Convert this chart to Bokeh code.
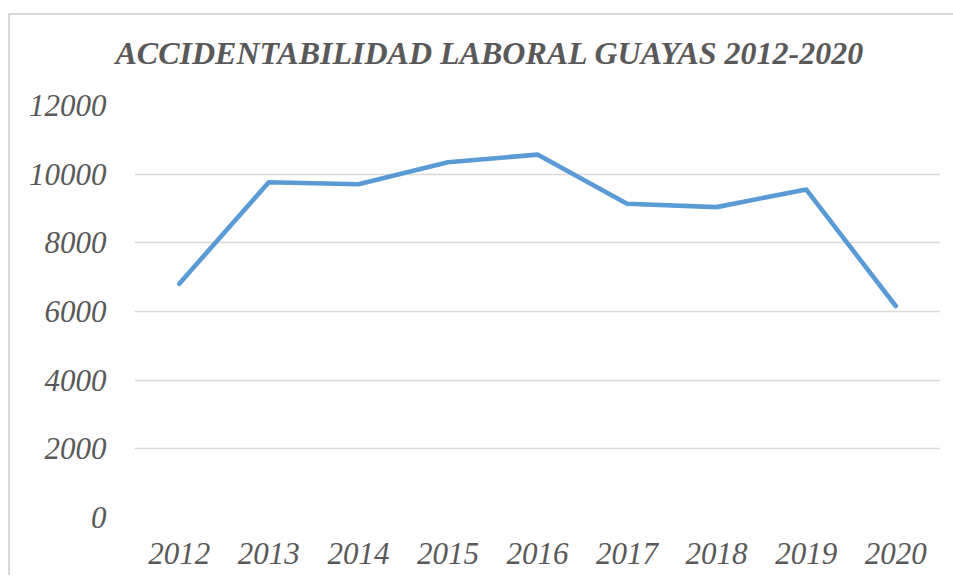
from bokeh.plotting import figure
from bokeh.models import FixedTicker, Range1d, BasicTickFormatter
from bokeh.embed import file_html
from bokeh.resources import INLINE

years = ["2012", "2013", "2014", "2015", "2016", "2017", "2018", "2019", "2020"]
accidents = [6810, 9765, 9705, 10345, 10570, 9140, 9040, 9555, 6160]
y_ticks = [0, 2000, 4000, 6000, 8000, 10000, 12000]
title_text = "ACCIDENTABILIDAD LABORAL GUAYAS 2012-2020"

SERIF = "Times New Roman"

p = figure(
    x_range=years,
    y_range=Range1d(0, 12000),
    width=945,
    height=575,
    output_backend="svg",
    toolbar_location=None,
    title=title_text,
    min_border_left=126,
    min_border_right=13,
    min_border_top=105,
    min_border_bottom=58,
)
p.styles = {
    "margin-left": "8px",
    "background-image": "linear-gradient(#d9d9d9, #d9d9d9), linear-gradient(#d9d9d9, #d9d9d9)",
    "background-size": "100% 2px, 2px 100%",
    "background-position": "0 13px, 0 13px",
    "background-repeat": "no-repeat",
}

p.line(years, accidents, line_color="#5B9BD5", line_width=4.6,
       line_cap="round", line_join="round")

p.title.text_font = SERIF
p.title.text_font_style = "bold italic"
p.title.text_font_size = "32px"
p.title.text_color = "#595959"
p.title.align = "left"
p.title.vertical_align = "top"
p.title.offset = -19
p.title.standoff = 65

p.outline_line_color = None
p.background_fill_color = "white"
p.border_fill_color = None

p.xgrid.grid_line_color = None
p.ygrid.grid_line_color = "#d9d9d9"
p.ygrid.grid_line_width = 1.5

p.yaxis.ticker = FixedTicker(ticks=y_ticks)
p.yaxis.formatter = BasicTickFormatter(use_scientific=False)
for ax in (p.xaxis, p.yaxis):
    ax.axis_line_color = None
    ax.major_tick_line_color = None
    ax.minor_tick_line_color = None
    ax.major_tick_out = 0
    ax.major_tick_in = 0
    ax.major_label_text_font = SERIF
    ax.major_label_text_font_style = "italic"
    ax.major_label_text_font_size = "31px"
    ax.major_label_text_color = "#595959"
p.yaxis.major_label_standoff = 28
p.xaxis.major_label_standoff = 25

open("out.html", "w").write(file_html(p, INLINE))
